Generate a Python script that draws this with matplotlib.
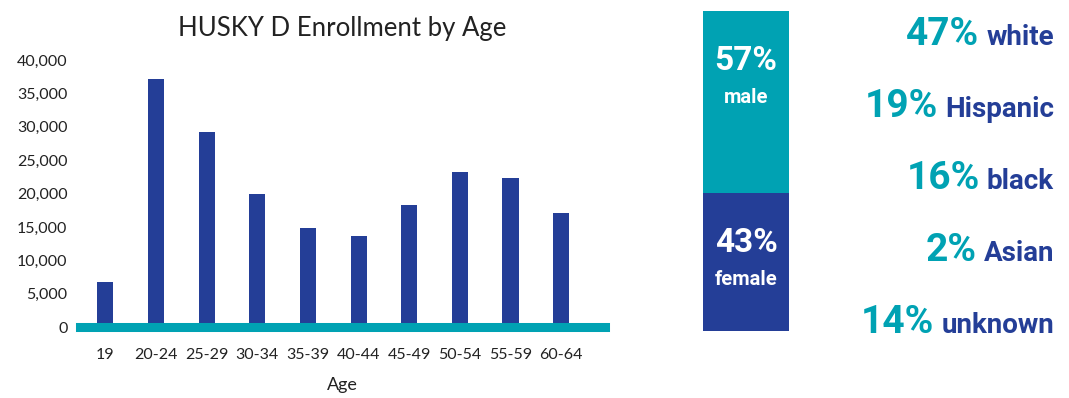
import matplotlib.pyplot as plt
import numpy as np

# data
age_groups = ["19", "20-24", "25-29", "30-34", "35-39", "40-44", "45-49", "50-54", "55-59", "60-64"]
enrollment = [6800, 37100, 29300, 20000, 14900, 13700, 18350, 23300, 22400, 17150]
y_ticks = [0, 5000, 10000, 15000, 20000, 25000, 30000, 35000, 40000]

gender_labels = ["female", "male"]
gender_pct = [43, 57]

race_labels = ["white", "Hispanic", "black", "Asian", "unknown"]
race_pct = [47, 19, 16, 2, 14]

BLUE = "#243e97"
TEAL = "#00a2b3"
TEXT = "#222222"
BODY_FONT = ["Lato", "DejaVu Sans"]
BOLD_FONT = ["Roboto", "DejaVu Sans"]

fig = plt.figure(figsize=(10.69, 3.98), dpi=100)

# ---- bar chart by age ----
ax = fig.add_axes([0.0748, 0.178, 0.491, 0.671])
x = np.arange(len(age_groups))
ax.bar(x, enrollment, width=0.32, color=BLUE, zorder=2)
ax.axhline(0, color=TEAL, linewidth=6.5, zorder=3, clip_on=False)
ax.set_xlim(-0.5, 9.86)
ax.set_ylim(0, 40000)
ax.set_yticks(y_ticks)
ax.set_yticklabels([f"{v:,}" for v in y_ticks], fontfamily=BODY_FONT, fontsize=11.5, color=TEXT)
ax.set_xticks(x)
ax.set_xticklabels(age_groups, fontfamily=BODY_FONT, fontsize=11.5, color=TEXT)
ax.tick_params(axis="both", length=0)
ax.tick_params(axis="x", pad=15)
ax.tick_params(axis="y", pad=9)
for s in ax.spines.values():
    s.set_visible(False)
ax.set_xlabel("Age", fontfamily=BODY_FONT, fontsize=13, color=TEXT, labelpad=11)
ax.set_title("HUSKY D Enrollment by Age", fontfamily=BODY_FONT, fontsize=18.5, color=TEXT, pad=17)

# ---- gender stacked bar ----
gax = fig.add_axes([0.6576, 0.1683, 0.0805, 0.8037])
bottom = 0
gender_colors = [BLUE, TEAL]
for lab, pct, col in zip(gender_labels, gender_pct, gender_colors):
    gax.bar(0, pct, bottom=bottom, width=1, color=col)
    top = bottom + pct
    gax.text(0, top - 15.5, f"{pct}%", ha="center", va="center", color="white",
             fontsize=24, fontweight="bold", fontfamily=BOLD_FONT)
    gax.text(0, top - 27, lab, ha="center", va="center",
             color="white", fontsize=14.5, fontweight="bold", fontfamily=BOLD_FONT)
    bottom = top
gax.set_xlim(-0.5, 0.5)
gax.set_ylim(0, sum(gender_pct))
gax.axis("off")

# ---- race breakdown ----
y0 = 1 - 45 / 398
step = 72 / 398
for i, (lab, pct) in enumerate(zip(race_labels, race_pct)):
    yb = y0 - i * step
    word = fig.text(1054 / 1069, yb, lab, ha="right", va="baseline", color=BLUE,
                    fontsize=20, fontweight="bold", fontfamily=BOLD_FONT)
    plt.annotate(f"{pct}%", xy=(0, yb), xycoords=(word, "figure fraction"),
                 xytext=(-5, 0), textcoords="offset points", ha="right", va="baseline",
                 color=TEAL, fontsize=28, fontweight="bold", fontfamily=BOLD_FONT,
                 annotation_clip=False)

fig.savefig("out.png", dpi=100)
